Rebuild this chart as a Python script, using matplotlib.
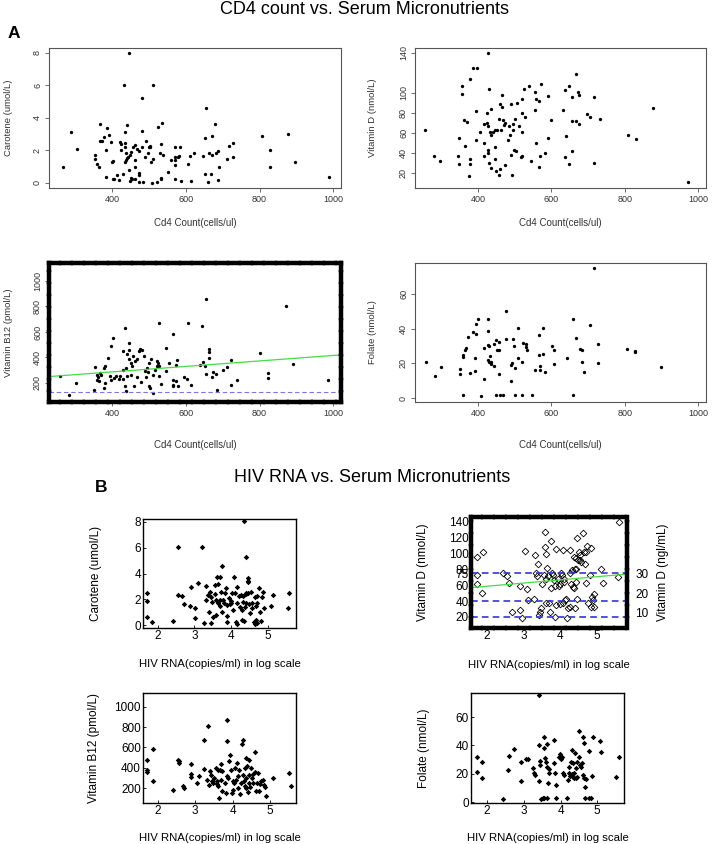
import numpy as np
import matplotlib.pyplot as plt

plt.rcParams['font.family'] = ['Liberation Sans', 'DejaVu Sans']

# ---- panel A: CD4 count (cells/ul) vs micronutrients ----
a_car_x = [266, 288, 306, 355, 355, 358, 364, 367, 367, 373, 378, 384, 385, 384, 393, 397, 400, 402,
           403, 406, 413, 419, 422, 425, 424, 431, 433, 434, 436, 436, 434, 437, 437, 441, 444, 448,
           452, 441, 445, 446, 450, 452, 455, 456, 461, 463, 463, 463, 467, 472, 472, 473, 472, 482,
           482, 482, 485, 490, 493, 497, 499, 502, 504, 506, 512, 512, 509, 521, 525, 530, 532, 532,
           534, 536, 539, 552, 561, 570, 570, 571, 570, 572, 584, 579, 582, 588, 606, 611, 614, 623,
           647, 651, 651, 656, 660, 662, 669, 670, 671, 679, 682, 688, 688, 691, 711, 717, 729, 728,
           807, 828, 828, 876, 897, 989]
a_car_y = [0.97, 3.1, 2.07, 1.7, 1.43, 1.18, 0.97, 2.54, 3.6, 2.56, 2.8, 2.0, 3.39, 0.35, 2.95, 2.48,
           1.3, 1.35, 0.2, 0.25, 0.5, 0.14, 2.48, 2.4, 2.0, 0.56, 6.0, 2.2, 2.46, 3.14, 1.28, 1.8,
           1.4, 1.5, 1.6, 1.7, 1.9, 3.57, 0.76, 8.0, 0.1, 0.3, 0.2, 2.2, 2.3, 1.38, 0.97, 0.25,
           2.1, 1.94, 0.6, 0.5, 0.04, 5.2, 3.18, 2.2, 0.04, 1.6, 2.56, 1.84, 2.2, 2.25, 2.2, 1.28,
           6.0, 1.43, 0.0, 0.04, 3.4, 1.8, 2.38, 0.23, 0.28, 3.66, 1.7, 0.66, 1.38, 2.2, 1.07, 1.6,
           1.4, 0.25, 2.2, 1.6, 1.65, 0.1, 1.18, 1.64, 0.08, 1.8, 1.65, 2.77, 0.52, 4.6, 0.04, 1.8,
           0.56, 2.87, 1.7, 3.6, 1.8, 1.96, 0.19, 0.97, 1.45, 2.27, 2.42, 1.6, 2.9, 2.0, 0.97, 2.98,
           1.3, 0.35]

a_vitd_x = [257, 280, 298, 345, 350, 350, 357, 357, 362, 366, 371, 377, 378, 379, 380, 387, 394, 394,
            398, 405, 416, 416, 418, 424, 424, 427, 427, 428, 428, 430, 430, 433, 435, 437, 437, 441,
            446, 448, 446, 450, 453, 457, 459, 459, 457, 464, 466, 466, 469, 470, 475, 475, 482, 486,
            487, 490, 490, 493, 495, 496, 499, 500, 503, 506, 513, 517, 520, 520, 521, 521, 525, 528,
            539, 544, 556, 556, 557, 558, 566, 566, 569, 571, 583, 590, 592, 599, 633, 638, 640, 638,
            648, 648, 655, 655, 655, 666, 668, 673, 675, 675, 696, 705, 716, 716, 732, 808, 830, 878,
            972]
a_vitd_y = [63, 37, 32, 37, 29, 55, 99, 107, 73, 47, 71, 17, 114, 34, 29, 125, 53, 82, 125, 61, 69,
            37, 50, 80, 70, 140, 67, 43, 40, 30, 104, 61, 58, 84, 25, 61, 63, 34, 46, 22, 63, 74,
            89, 24, 18, 63, 86, 98, 73, 68, 70, 28, 53, 67, 58, 89, 38, 18, 63, 69, 43, 74, 42, 90,
            67, 36, 61, 37, 80, 94, 104, 76, 107, 32, 101, 83, 94, 50, 92, 26, 37, 109, 40, 97, 55,
            73, 83, 103, 57, 36, 107, 29, 96, 42, 72, 119, 72, 101, 98, 69, 79, 76, 96, 30, 74, 58,
            54, 85, 11]

a_b12_x = [258, 283, 301, 353, 350, 358, 362, 360, 364, 366, 370, 377, 377, 380, 382, 388, 395, 397,
           397, 402, 405, 411, 418, 422, 429, 430, 431, 434, 434, 437, 438, 441, 441, 445, 446, 447,
           451, 451, 454, 458, 460, 462, 469, 469, 472, 477, 479, 481, 488, 490, 491, 495, 497, 499,
           500, 502, 506, 510, 511, 517, 521, 521, 525, 527, 527, 528, 533, 546, 546, 555, 566, 564,
           566, 564, 573, 574, 576, 580, 596, 603, 606, 615, 638, 645, 646, 652, 654, 654, 663, 663,
           663, 672, 675, 681, 684, 702, 711, 722, 722, 738, 801, 822, 822, 871, 892, 985]
a_b12_y = [257, 104, 200, 325, 143, 265, 247, 226, 213, 278, 260, 317, 161, 200, 335, 395, 252, 226,
           491, 556, 239, 252, 231, 252, 452, 304, 231, 174, 634, 317, 135, 252, 426, 460, 517, 390,
           265, 356, 330, 408, 174, 369, 247, 390, 452, 467, 205, 460, 408, 296, 247, 317, 286, 356,
           174, 161, 387, 265, 122, 299, 330, 374, 356, 330, 667, 252, 195, 473, 291, 356, 584, 226,
           187, 174, 213, 338, 382, 174, 247, 234, 667, 187, 338, 647, 361, 335, 270, 862, 395, 465,
           447, 247, 283, 270, 143, 299, 322, 187, 377, 221, 434, 278, 239, 803, 348, 221]
a_b12_fit = (201.0, 0.215)   # intercept, slope
b12_cut = 130

a_fol_x = [260, 283, 301, 352, 352, 359, 359, 359, 364, 368, 373, 379, 386, 393, 393, 395, 396, 400,
           409, 416, 418, 427, 429, 429, 429, 431, 431, 433, 436, 436, 443, 444, 449, 449, 452, 458,
           458, 458, 460, 469, 477, 477, 489, 491, 494, 497, 499, 501, 502, 510, 510, 519, 521, 524,
           530, 532, 535, 548, 555, 566, 566, 568, 569, 577, 578, 582, 602, 608, 608, 643, 658, 659,
           667, 679, 683, 684, 688, 706, 717, 726, 726, 807, 827, 827, 899]
a_fol_y = [20.8, 12.9, 17.9, 16.7, 14.0, 24.6, 23.7, 1.9, 27.5, 28.7, 35.4, 14.4, 37.9, 15.6, 22.9,
           37.1, 42.9, 45.8, 1.3, 11.0, 28.7, 21.9, 39.0, 30.4, 45.8, 20.8, 29.8, 24.0, 19.6, 21.0,
           18.7, 31.2, 1.9, 33.3, 27.5, 32.1, 27.5, 14.0, 1.5, 1.9, 34.2, 50.4, 19.2, 9.8, 20.2,
           34.2, 30.2, 17.1, 1.9, 40.6, 23.3, 1.9, 20.6, 31.7, 31.2, 29.4, 27.9, 1.9, 16.3, 36.5,
           25.0, 18.3, 16.3, 25.4, 40.4, 15.2, 30.2, 27.5, 19.6, 23.3, 1.9, 45.8, 34.8, 28.3, 27.9,
           21.0, 15.2, 42.3, 75.4, 31.2, 20.0, 28.3, 26.9, 26.3, 17.7]

# ---- panel B: HIV RNA (log copies/ml) vs micronutrients ----
b_car_x = [1.70, 1.71, 1.71, 1.84, 2.41, 2.55, 2.55, 2.67, 2.71, 2.89, 2.90, 3.01, 3.01, 3.10, 3.22,
           3.25, 3.33, 3.31, 3.37, 3.40, 3.42, 3.44, 3.45, 3.49, 3.51, 3.56, 3.56, 3.58, 3.60, 3.62,
           3.64, 3.65, 3.69, 3.69, 3.69, 3.72, 3.74, 3.76, 3.78, 3.80, 3.83, 3.86, 3.88, 3.88, 3.88,
           3.95, 3.97, 3.99, 4.01, 4.03, 4.06, 4.09, 4.10, 4.13, 4.15, 4.17, 4.17, 4.22, 4.24, 4.26,
           4.29, 4.31, 4.33, 4.33, 4.35, 4.36, 4.38, 4.40, 4.41, 4.42, 4.42, 4.45, 4.45, 4.45, 4.47,
           4.50, 4.52, 4.53, 4.56, 4.56, 4.63, 4.66, 4.70, 4.68, 4.65, 4.68, 4.70, 4.72, 4.77, 4.79,
           4.81, 4.84, 4.88, 4.91, 5.08, 5.13, 5.54, 5.57]
b_car_y = [2.47, 1.87, 0.65, 0.26, 0.31, 6.05, 2.34, 2.29, 1.64, 1.51, 2.96, 1.30, 0.57, 3.25, 6.05,
           0.18, 3.04, 1.95, 2.34, 1.04, 2.60, 2.21, 0.13, 1.82, 0.65, 2.42, 3.12, 1.95, 0.78, 3.69,
           1.69, 3.17, 3.71, 1.95, 1.51, 2.60, 1.04, 4.62, 1.95, 1.69, 2.47, 2.88, 1.56, 0.73, 0.21,
           2.08, 1.64, 1.90, 1.74, 2.47, 1.17, 3.71, 2.52, 0.21, 1.69, 2.94, 0.05, 2.26, 1.43, 2.34,
           0.39, 1.17, 2.29, 1.82, 8.05, 0.31, 1.43, 2.42, 5.27, 2.52, 1.69, 3.64, 3.45, 3.32, 2.52,
           1.64, 0.91, 2.60, 1.69, 1.30, 0.20, 0.10, 0.18, 0.39, 2.16, 1.48, 1.69, 2.26, 2.91, 1.04,
           0.31, 2.21, 2.60, 1.30, 1.51, 2.34, 1.30, 2.47]

b_vitd_x = [1.73, 1.89, 1.73, 1.73, 1.87, 2.44, 2.55, 2.60, 2.69, 2.89, 2.89, 2.94, 3.03, 3.09, 3.12,
            3.27, 3.30, 3.33, 3.35, 3.39, 3.42, 3.45, 3.46, 3.51, 3.55, 3.57, 3.57, 3.60, 3.60, 3.62,
            3.64, 3.66, 3.69, 3.71, 3.74, 3.75, 3.78, 3.80, 3.82, 3.85, 3.86, 3.87, 3.89, 3.94, 3.96,
            3.98, 4.00, 4.01, 4.05, 4.07, 4.07, 4.09, 4.10, 4.12, 4.16, 4.19, 4.21, 4.25, 4.25, 4.27,
            4.30, 4.33, 4.35, 4.36, 4.37, 4.39, 4.39, 4.42, 4.44, 4.44, 4.45, 4.45, 4.48, 4.51, 4.53,
            4.55, 4.57, 4.62, 4.64, 4.66, 4.69, 4.71, 4.73, 4.75, 4.80, 4.83, 4.85, 4.87, 4.91, 4.89,
            4.91, 5.12, 5.16, 5.59, 5.57]
b_vitd_y = [96, 102, 73, 62, 50, 75, 71, 63, 26, 29, 59, 19, 103, 55, 41, 42, 98, 75, 71, 87, 23,
            26, 31, 62, 73, 127, 108, 99, 68, 38, 82, 71, 37, 26, 116, 56, 75, 73, 66, 59, 20, 106,
            35, 68, 59, 36, 62, 75, 73, 105, 38, 68, 64, 41, 42, 18, 31, 105, 75, 33, 62, 79, 58,
            95, 56, 81, 31, 94, 81, 64, 120, 43, 92, 102, 98, 92, 89, 126, 102, 87, 102, 63, 110,
            38, 73, 107, 33, 45, 49, 41, 33, 80, 63, 140, 70]
b_vitd_fit = (50.7, 4.0)   # intercept, slope
vitd_cuts = [75, 40, 20]
ngml_ticks = [10, 20, 30]

b_b12_x = [1.71, 1.71, 1.71, 1.86, 1.86, 2.41, 2.53, 2.56, 2.56, 2.68, 2.70, 2.88, 2.89, 2.89, 3.05,
           3.11, 3.23, 3.23, 3.32, 3.34, 3.36, 3.39, 3.41, 3.45, 3.48, 3.50, 3.55, 3.57, 3.59, 3.61,
           3.61, 3.64, 3.65, 3.68, 3.70, 3.71, 3.73, 3.79, 3.82, 3.84, 3.86, 3.86, 3.88, 3.91, 3.94,
           3.96, 3.98, 4.00, 4.02, 4.05, 4.07, 4.09, 4.12, 4.14, 4.15, 4.16, 4.21, 4.23, 4.25, 4.27,
           4.27, 4.30, 4.32, 4.33, 4.35, 4.36, 4.37, 4.39, 4.41, 4.43, 4.45, 4.45, 4.48, 4.50, 4.52,
           4.55, 4.56, 4.59, 4.61, 4.64, 4.65, 4.68, 4.70, 4.73, 4.77, 4.82, 4.84, 4.86, 4.89, 5.09,
           5.52, 5.57]
b_b12_y = [473, 381, 355, 588, 266, 184, 480, 463, 447, 216, 200, 437, 341, 305, 249, 315, 677, 391,
           282, 815, 233, 371, 332, 266, 249, 299, 397, 239, 272, 374, 216, 101, 381, 282, 437, 167,
           364, 249, 151, 315, 661, 874, 299, 463, 529, 381, 151, 184, 266, 249, 397, 282, 447, 315,
           200, 381, 141, 249, 634, 677, 332, 272, 397, 216, 496, 299, 200, 414, 157, 332, 480, 249,
           207, 397, 299, 341, 249, 355, 555, 174, 249, 348, 174, 239, 266, 282, 233, 207, 124, 299,
           348, 223]

b_fol_x = [1.73, 1.73, 1.87, 1.87, 2.43, 2.57, 2.59, 2.73, 2.91, 2.93, 3.06, 3.11, 3.26, 3.29, 3.31,
           3.41, 3.41, 3.42, 3.45, 3.44, 3.47, 3.52, 3.56, 3.62, 3.54, 3.56, 3.59, 3.60, 3.62, 3.63,
           3.65, 3.68, 3.69, 3.81, 3.83, 3.85, 3.87, 3.87, 3.96, 3.98, 4.01, 4.05, 4.08, 4.10, 4.17,
           4.21, 4.24, 4.24, 4.26, 4.28, 4.31, 4.32, 4.34, 4.35, 4.37, 4.38, 4.40, 4.41, 4.43, 4.45,
           4.46, 4.49, 4.50, 4.52, 4.55, 4.59, 4.61, 4.61, 4.64, 4.65, 4.68, 4.68, 4.70, 4.77, 4.77,
           4.82, 4.86, 4.89, 5.07, 5.11, 5.51, 5.59]
b_fol_y = [32.1, 21.0, 28.6, 17.1, 2.4, 22.6, 32.6, 37.4, 28.6, 14.8, 30.5, 30.3, 23.8, 20.7, 19.0,
           40.0, 75.7, 14.8, 29.3, 26.2, 2.4, 2.6, 2.9, 2.9, 38.1, 46.0, 31.0, 28.6, 25.0, 41.0,
           13.6, 23.3, 20.7, 44.0, 27.9, 20.7, 11.9, 2.9, 31.7, 33.8, 30.2, 31.7, 20.7, 19.0, 2.9,
           15.5, 25.0, 20.7, 18.3, 28.6, 19.8, 36.9, 17.9, 27.9, 16.7, 20.2, 34.5, 23.8, 16.7, 28.6,
           17.9, 50.5, 32.1, 26.2, 25.0, 27.9, 46.0, 19.0, 16.7, 41.7, 10.7, 2.9, 16.0, 36.2, 2.9,
           2.9, 18.6, 46.0, 42.9, 35.0, 17.9, 31.7]

W, H = 712, 844
fig = plt.figure(figsize=(W / 100, H / 100), dpi=100)


def box(l, t, r, b):
    return fig.add_axes([l / W, 1 - b / H, (r - l) / W, (b - t) / H])


def place_labels(ax, l, t, r, b, xoff, yoff):
    ax.xaxis.set_label_coords(0.5, -xoff / (b - t))
    ax.yaxis.set_label_coords(-yoff / (r - l), 0.5)


def heavy_frame(ax):
    for s in ax.spines.values():
        s.set_linewidth(3.2)
        s.set_linestyle((0, (2.2, 0.5)))
        s.set_color('black')


def panel_a(pos, x, y, yl, ylim, yticks):
    l, t, r, b = pos
    ax = box(l, t, r, b)
    ax.plot(x, y, 'o', color='black', ms=2.4, mew=0)
    ax.set_xlim(229, 1021)
    ax.set_ylim(*ylim)
    ax.set_xticks([400, 600, 800, 1000])
    ax.set_yticks(yticks)
    for s in ax.spines.values():
        s.set_color('#555555')
        s.set_linewidth(0.8)
    ax.tick_params(direction='out', length=3, width=0.6, color='#555555',
                   labelsize=6.5, labelcolor='#333333', pad=2)
    plt.setp(ax.get_yticklabels(), rotation=90, va='center')
    ax.set_xlabel('Cd4 Count(cells/ul)', fontsize=7, color='#333333')
    ax.set_ylabel(yl, fontsize=6.8, color='#333333')
    return ax


def panel_b(pos, x, y, yl, ylim, yticks, xlim):
    l, t, r, b = pos
    ax = box(l, t, r, b)
    if y is not None:
        ax.plot(x, y, 'D', color='black', ms=2.8, mew=0)
    ax.set_xlim(*xlim)
    ax.set_ylim(*ylim)
    ax.set_xticks([2, 3, 4, 5])
    ax.set_yticks(yticks)
    for s in ax.spines.values():
        s.set_linewidth(1.0)
    ax.tick_params(direction='in', length=2.5, width=0.6, labelsize=8.5, pad=1.5)
    ax.set_xlabel('HIV RNA(copies/ml) in log scale', fontsize=8.2)
    ax.set_ylabel(yl, fontsize=8.5)
    return ax


# titles
fig.text(365 / W, 1 - 10 / H, 'CD4 count vs. Serum Micronutrients', fontsize=13,
         ha='center', va='center')
fig.text(8 / W, 1 - 33 / H, 'A', fontsize=12.5, fontweight='bold', ha='left', va='center')
fig.text(372 / W, 1 - 478 / H, 'HIV RNA vs. Serum Micronutrients', fontsize=13,
         ha='center', va='center')
fig.text(95 / W, 1 - 488 / H, 'B', fontsize=12.5, fontweight='bold', ha='left', va='center')

# panel A
p = (49, 48, 341, 188)
ax = panel_a(p, a_car_x, a_car_y, 'Carotene (umol/L)', (-0.33, 8.3), [0, 2, 4, 6, 8])
place_labels(ax, *p, 30, 36)

p = (415, 48, 706, 188)
ax = panel_a(p, a_vitd_x, a_vitd_y, 'Vitamin D (nmol/L)', (5, 145), [20, 40, 60, 80, 100, 140])
place_labels(ax, *p, 30, 38)

p = (49, 263, 341, 402)
ax = panel_a(p, a_b12_x, a_b12_y, 'Vitamin B12 (pmol/L)', (51, 1141), [200, 400, 600, 800, 1000])
xs = np.array(ax.get_xlim())
ax.plot(xs, a_b12_fit[0] + a_b12_fit[1] * xs, color='#44dd44', lw=0.9)
ax.axhline(b12_cut, color='#7777ee', lw=0.8, ls=(0, (4, 2.5)))
heavy_frame(ax)
place_labels(ax, *p, 38, 36)

p = (415, 263, 706, 402)
ax = panel_a(p, a_fol_x, a_fol_y, 'Folate (nmol/L)', (-2.3, 78), [0, 20, 40, 60])
place_labels(ax, *p, 38, 38)

# panel B
p = (143, 519, 296, 628)
ax = panel_b(p, b_car_x, b_car_y, 'Carotene (umol/L)', (-0.23, 8.23), [0, 2, 4, 6, 8], (1.6, 5.77))
place_labels(ax, *p, 31, 41)

p = (471, 517, 627, 628)
ax = panel_b(p, None, None, 'Vitamin D (nmol/L)', (6, 146),
             [20, 40, 60, 75, 80, 100, 120, 140], (1.56, 5.82))
ax.plot(b_vitd_x, b_vitd_y, 'D', mfc='none', mec='black', ms=3.4, mew=0.6)
xs = np.array(ax.get_xlim())
ax.plot(xs, b_vitd_fit[0] + b_vitd_fit[1] * xs, color='#44dd44', lw=0.9)
for c in vitd_cuts:
    ax.axhline(c, color='#3333dd', lw=1.2, ls=(0, (4, 2.5)))
heavy_frame(ax)
ax.tick_params(length=0)
sec = ax.secondary_yaxis('right', functions=(lambda v: v / 2.5, lambda v: v * 2.5))
sec.set_yticks(ngml_ticks)
sec.tick_params(length=0, labelsize=8.5, pad=6)
sec.set_ylabel('Vitamin D (ngl/mL)', fontsize=8.5, labelpad=6)
place_labels(ax, *p, 32, 42)

p = (143, 693, 296, 803)
ax = panel_b(p, b_b12_x, b_b12_y, 'Vitamin B12 (pmol/L)', (52, 1138),
             [200, 400, 600, 800, 1000], (1.6, 5.7))
place_labels(ax, *p, 30, 43)

p = (471, 693, 624, 803)
ax = panel_b(p, b_fol_x, b_fol_y, 'Folate (nmol/L)', (-0.7, 77), [0, 20, 40, 60], (1.56, 5.73))
place_labels(ax, *p, 30, 41)

fig.savefig('out.png', dpi=100)
